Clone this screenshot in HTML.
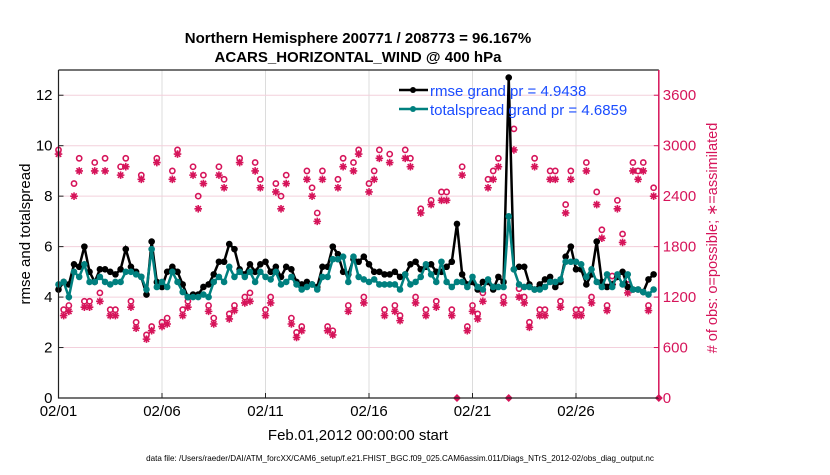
<!DOCTYPE html>
<html><head><meta charset="utf-8"><style>
body{margin:0;background:#fff;}
svg text{font-family:"Liberation Sans",sans-serif;}
</style></head><body>
<svg id="chart" width="830" height="470" xmlns="http://www.w3.org/2000/svg">
<text x="358" y="43" text-anchor="middle" font-size="15" font-weight="bold">Northern Hemisphere 200771 / 208773 = 96.167%</text>
<text x="358" y="62" text-anchor="middle" font-size="15" font-weight="bold">ACARS_HORIZONTAL_WIND @ 400 hPa</text>
<g id="grid"></g><g id="marks"></g><g id="axes"></g>
<text transform="translate(30,234) rotate(-90)" text-anchor="middle" font-size="15">rmse and totalspread</text>
<text transform="translate(717,238) rotate(-90)" text-anchor="middle" font-size="14.5" fill="#d6145a"># of obs: o=possible; ∗=assimilated</text>
<text x="358" y="440" text-anchor="middle" font-size="15">Feb.01,2012 00:00:00 start</text>
<text x="400" y="461" text-anchor="middle" font-size="8.1">data file: /Users/raeder/DAI/ATM_forcXX/CAM6_setup/f.e21.FHIST_BGC.f09_025.CAM6assim.011/Diags_NTrS_2012-02/obs_diag_output.nc</text>
<g>
<line x1="399" y1="90" x2="428" y2="90" stroke="#000" stroke-width="2.5"/><circle cx="413" cy="90" r="3" fill="#000"/>
<text x="430" y="96" font-size="15" fill="#1a4cff">rmse grand pr = 4.9438</text>
<line x1="399" y1="109" x2="428" y2="109" stroke="#00807f" stroke-width="2.5"/><circle cx="413" cy="109" r="3" fill="#00807f"/>
<text x="430" y="115" font-size="15" fill="#1a4cff">totalspread grand pr = 4.6859</text>
</g>
</svg>
<script>
const xTickLabels=["02/01","02/06","02/11","02/16","02/21","02/26"];
const yTicks=[0,2,4,6,8,10,12];
const y2Ticks=[0,600,1200,1800,2400,3000,3600];
const rmse=[4.3,4.6,4.5,5.3,5.2,6.0,5.0,4.6,5.1,5.1,5.0,4.9,5.1,5.9,5.2,5.0,4.8,4.1,6.2,4.6,4.4,5.0,5.2,
5.0,4.5,4.0,4.1,4.1,4.4,4.5,4.9,5.4,5.4,6.1,5.9,5.1,4.9,
5.3,5.0,5.3,5.4,5.0,5.2,4.8,5.2,5.1,4.6,4.5,4.6,4.5,4.4,5.2,5.2,6.0,5.7,5.0,4.9,
5.5,5.4,5.6,5.3,5.0,5.0,4.9,4.9,5.0,4.8,4.9,5.3,5.4,5.1,5.2,5.3,5.0,5.0,5.2,5.4,6.9,
4.9,4.5,4.6,4.3,4.6,4.6,4.3,4.8,4.6,12.7,
5.1,5.2,5.2,4.5,4.3,4.5,4.7,4.8,4.4,4.6,5.6,6.0,5.1,5.1,4.5,4.9,6.2,4.6,4.4,4.5,4.8,5.0,4.4,4.3,4.3,4.2,4.7,4.9];
const spread=[4.5,4.6,4.0,5.0,4.8,5.3,4.6,4.6,4.8,4.6,4.5,4.6,4.6,5.0,5.0,4.9,4.8,4.3,5.9,4.4,4.6,4.4,5.0,
4.6,4.2,4.0,4.0,4.0,4.1,4.0,4.6,4.8,4.6,5.2,4.8,5.0,4.8,
5.0,4.6,5.0,4.8,4.7,5.0,4.5,4.6,4.8,4.5,4.3,4.4,4.5,4.3,4.8,4.8,5.5,5.5,5.6,4.6,
5.6,4.8,4.7,4.6,4.7,4.5,4.5,4.5,4.5,4.3,4.9,4.5,4.6,4.8,5.3,4.9,4.6,5.4,4.6,4.4,4.6,
4.6,4.4,4.8,4.4,4.3,4.7,4.4,4.4,4.4,7.2,
5.1,4.5,4.4,4.4,4.3,4.3,4.4,4.6,4.6,4.7,5.4,5.4,5.4,5.3,4.8,5.1,4.6,4.4,4.9,4.4,4.9,4.5,4.9,4.3,4.3,4.2,4.1,4.3];
const possible=[2950,1050,1100,2550,2850,1150,1150,2800,1250,2850,1050,1050,2750,2850,1150,900,2650,750,850,2850,900,950,2700,
2950,1050,1150,2750,2400,2650,1100,950,2750,2600,1000,1100,2850,1200,
1250,2800,2600,1050,1200,2550,2400,2650,950,780,850,2700,2500,2200,2700,850,800,2600,2850,1100,
2800,2950,1200,2550,2700,2950,1050,2900,1100,980,2950,2850,1200,2250,1050,2350,1150,2450,2450,1050,0,
2750,850,1100,1000,1250,2600,2700,2850,1200,0,
3200,1300,1200,900,2850,1050,1050,2700,2700,1150,2300,2700,1050,1050,2800,1200,2450,2000,1100,1450,2350,1950,1350,2800,2700,2800,1100,2500,0];
const assimilated=[2900,980,1030,2400,2700,1080,1080,2700,1150,2700,980,980,2650,2750,1080,830,2600,700,800,2800,850,880,2600,
2900,980,1080,2650,2250,2550,1030,880,2650,2500,940,1040,2800,1130,
1150,2700,2500,980,1130,2450,2250,2550,880,720,800,2600,2400,2100,2600,800,750,2500,2750,1030,
2700,2900,1130,2450,2600,2850,980,2800,1030,920,2850,2750,1130,2200,980,2300,1080,2350,2350,980,0,
2650,800,1030,940,1150,2500,2600,2750,1130,0,
2950,1200,1130,840,2750,980,980,2600,2600,1080,2200,2600,980,980,2700,1130,2300,1900,1040,1350,2250,1850,1250,2700,2600,2700,1040,2400,0];

const NS="http://www.w3.org/2000/svg";
const L=58.5,R=658.8,T=70,B=398,DAYS=29,YMAX=13,Y2MAX=3900;
const xs=i=>L+(i/4)*(R-L)/DAYS;
const xd=d=>L+d*(R-L)/DAYS;
const ys=v=>B-v/YMAX*(B-T);
const y2=v=>B-v/Y2MAX*(B-T);
function mk(tag,attrs,parent){const e=document.createElementNS(NS,tag);for(const k in attrs)e.setAttribute(k,attrs[k]);parent.appendChild(e);return e;}
const grid=document.getElementById('grid'),marks=document.getElementById('marks'),axes=document.getElementById('axes');
xTickLabels.forEach((t,i)=>{const x=xd(i*5);
 const g=mk('line',{x1:x,y1:T,x2:x,y2:B,stroke:'#dcdcdc','stroke-width':1},grid);
 
 mk('line',{x1:x,y1:B,x2:x,y2:B-5,stroke:'#222'},axes);
 const tx=mk('text',{x:x,y:B+18,'text-anchor':'middle','font-size':15},axes);tx.textContent=t;
 });
y2Ticks.forEach(v=>{const y=y2(v);
 if(v>0){const g=mk('line',{x1:L,y1:y,x2:R,y2:y,stroke:'#f3d0dc','stroke-width':1},grid);
 }
 mk('line',{x1:R,y1:y,x2:R-5,y2:y,stroke:'#d6145a'},axes);
 const tx=mk('text',{x:R+4,y:y+5,'font-size':15,fill:'#d6145a'},axes);tx.textContent=v;
 });
yTicks.forEach(v=>{const y=ys(v);
 mk('line',{x1:L,y1:y,x2:L+5,y2:y,stroke:'#222'},axes);
 const tx=mk('text',{x:L-6,y:y+5,'text-anchor':'end','font-size':15},axes);tx.textContent=v;
 });
const fr=mk('path',{d:`M${L},${T}H${R}M${L},${T}V${B}H${R}`,stroke:'#222',fill:'none','stroke-width':1.2},axes);

const ra=mk('line',{x1:R,y1:T,x2:R,y2:B,stroke:'#d6145a','stroke-width':1.5},axes);

possible.forEach((v,i)=>{const x=xs(i);
 if(v===0){const d=mk('path',{d:`M${x-4},${B}L${x},${B-4}L${x+4},${B}L${x},${B+4}Z`,fill:'#d6145a'},marks);
  return;}
 const c=mk('circle',{cx:x,cy:y2(v),r:2.6,fill:'none',stroke:'#d6145a','stroke-width':1.6},marks);
 });
assimilated.forEach((v,i)=>{if(v===0)return;const x=xs(i),y=y2(v),r=3.8;
 const s=mk('path',{d:`M${x-r},${y}H${x+r}M${x},${y-r}V${y+r}M${x-2.7},${y-2.7}L${x+2.7},${y+2.7}M${x-2.7},${y+2.7}L${x+2.7},${y-2.7}`,stroke:'#d6145a','stroke-width':1.6},marks);
 });
function series(arr,color,name){
 const p=mk('polyline',{points:arr.map((v,i)=>xs(i)+','+ys(v)).join(' '),fill:'none',stroke:color,'stroke-width':2.5},marks);
 
 arr.forEach((v,i)=>{const c=mk('circle',{cx:xs(i),cy:ys(v),r:3.3,fill:color},marks);
  });}
series(rmse,'#000','rmse');
series(spread,'#00807f','totalspread');
</script>
</body></html>
